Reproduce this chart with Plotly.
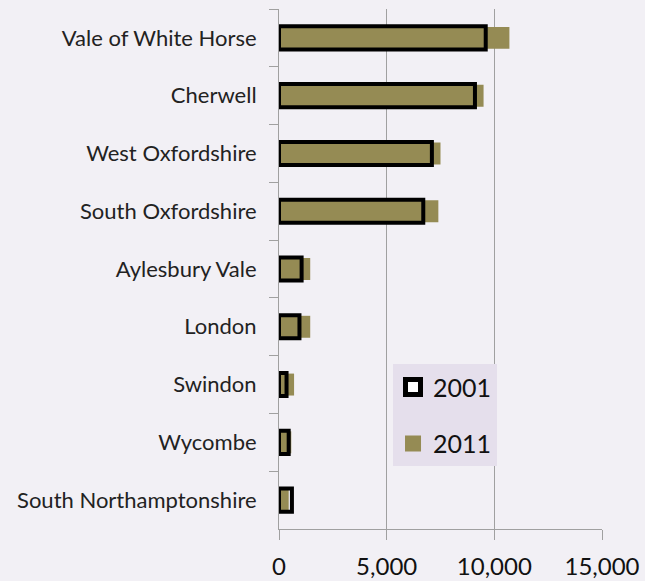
import plotly.graph_objects as go

categories = ["Vale of White Horse", "Cherwell", "West Oxfordshire", "South Oxfordshire",
              "Aylesbury Vale", "London", "Swindon", "Wycombe", "South Northamptonshire"]
values_2001 = [9600, 9100, 7100, 6700, 1050, 950, 350, 450, 600]
values_2011 = [10700, 9500, 7500, 7400, 1450, 1450, 700, 570, 450]
x_ticks = [0, 5000, 10000, 15000]
x_tick_labels = ["0", "5,000", "10,000", "15,000"]

OLIVE = "#958b54"
FONT = "Lato, Calibri, sans-serif"

fig = go.Figure()
fig.add_trace(go.Bar(
    y=categories, x=values_2011, orientation="h", name="2011",
    marker=dict(color=OLIVE, line=dict(width=0)), width=0.38,
    showlegend=False))
fig.add_trace(go.Bar(
    y=categories, x=values_2001, orientation="h", name="2001",
    marker=dict(color="rgba(0,0,0,0)", line=dict(color="black", width=4)), width=0.40,
    showlegend=False))
# legend entries
fig.add_trace(go.Scatter(
    x=[None], y=[None], mode="markers", name="2001", legendgroup="a",
    marker=dict(symbol="square", size=15, color="white", line=dict(color="black", width=5))))
fig.add_trace(go.Scatter(
    x=[None], y=[None], mode="markers", name="2011", legendgroup="b",
    marker=dict(symbol="square", size=16, color=OLIVE, line=dict(width=0))))

fig.update_layout(
    width=645, height=581,
    margin=dict(l=279, r=43, t=9, b=52),
    barmode="overlay",
    paper_bgcolor="#f2f0f5", plot_bgcolor="#f2f0f5",
    font=dict(family=FONT, size=22, color="#222222"),
    showlegend=True,
    legend=dict(x=0.353, y=0.317, xanchor="left", yanchor="top",
                bgcolor="#e5dfec", font=dict(size=25, color="#111111"),
                tracegroupgap=21, traceorder="grouped", itemsizing="trace",
                itemwidth=30),
)
fig.update_yaxes(
    type="category", categoryorder="array", categoryarray=categories,
    autorange="reversed", tickson="boundaries", ticks="outside", ticklen=9,
    tickcolor="#a0a0a0", showline=True, linecolor="#a0a0a0", linewidth=1,
    showgrid=False, ticklabelstandoff=17, automargin=False,
    tickfont=dict(size=22, color="#222222"))
fig.update_xaxes(
    range=[0, 15000], tickvals=x_ticks, ticktext=x_tick_labels,
    ticks="outside", ticklen=10, tickcolor="#a0a0a0",
    showline=True, linecolor="#a0a0a0", linewidth=1,
    showgrid=True, gridcolor="#a0a0a0", gridwidth=1, zeroline=False,
    automargin=False,
    tickfont=dict(size=24, color="#111111"), ticklabelstandoff=6)

fig.write_html("out.html")
